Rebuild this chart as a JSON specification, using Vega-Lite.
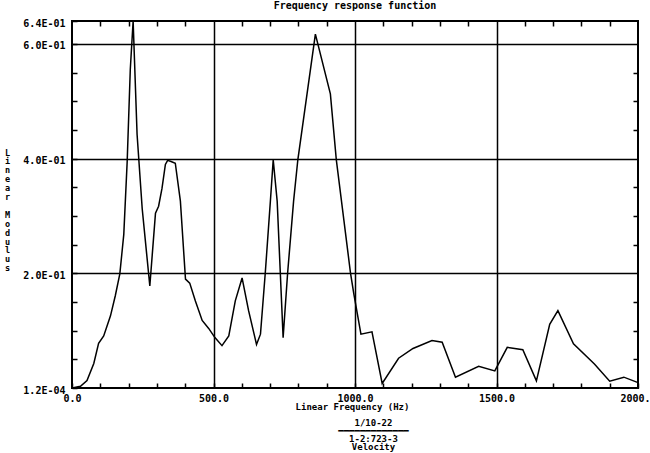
{
  "$schema": "https://vega.github.io/schema/vega-lite/v6.json",
  "width": 566,
  "height": 367,
  "autosize": {"type": "none"},
  "padding": {"left": 72, "top": 21, "right": 12, "bottom": 65},
  "background": "white",
  "title": {
    "text": "Frequency response function",
    "font": "DejaVu Sans Mono",
    "fontSize": 10,
    "fontWeight": "bold",
    "color": "black",
    "offset": 7,
    "anchor": "middle"
  },
  "config": {
    "view": {"stroke": "black", "strokeWidth": 2},
    "axis": {
      "labelFont": "DejaVu Sans Mono",
      "labelFontWeight": "bold",
      "labelFontSize": 10,
      "labelColor": "black",
      "titleFont": "DejaVu Sans Mono",
      "titleFontWeight": "bold",
      "titleFontSize": 9,
      "titleColor": "black",
      "domain": false,
      "tickColor": "black",
      "tickWidth": 1.5,
      "gridColor": "black",
      "gridWidth": 1.5,
      "labelFlush": false,
      "labelOverlap": false
    }
  },
  "data": {
    "values": [
      {"f": 0, "m": 0.0002},
      {"f": 30, "m": 0.003},
      {"f": 53, "m": 0.013},
      {"f": 77, "m": 0.043},
      {"f": 94, "m": 0.078},
      {"f": 112, "m": 0.091},
      {"f": 136, "m": 0.126},
      {"f": 153, "m": 0.161},
      {"f": 169, "m": 0.199},
      {"f": 183, "m": 0.268},
      {"f": 195, "m": 0.395},
      {"f": 206, "m": 0.556},
      {"f": 216, "m": 0.64},
      {"f": 230, "m": 0.442},
      {"f": 248, "m": 0.313},
      {"f": 275, "m": 0.178},
      {"f": 295, "m": 0.305},
      {"f": 306, "m": 0.317},
      {"f": 318, "m": 0.348},
      {"f": 330, "m": 0.39},
      {"f": 338, "m": 0.397},
      {"f": 350, "m": 0.395},
      {"f": 365, "m": 0.392},
      {"f": 383, "m": 0.326},
      {"f": 401, "m": 0.19},
      {"f": 416, "m": 0.183},
      {"f": 436, "m": 0.152},
      {"f": 460, "m": 0.118},
      {"f": 483, "m": 0.104},
      {"f": 505, "m": 0.088},
      {"f": 530, "m": 0.074},
      {"f": 554, "m": 0.091},
      {"f": 577, "m": 0.152},
      {"f": 601, "m": 0.192},
      {"f": 624, "m": 0.135},
      {"f": 652, "m": 0.076},
      {"f": 666, "m": 0.094},
      {"f": 683, "m": 0.201},
      {"f": 701, "m": 0.326},
      {"f": 711, "m": 0.398},
      {"f": 725, "m": 0.326},
      {"f": 746, "m": 0.088},
      {"f": 762, "m": 0.201},
      {"f": 783, "m": 0.326},
      {"f": 798, "m": 0.398},
      {"f": 860, "m": 0.617},
      {"f": 913, "m": 0.513},
      {"f": 934, "m": 0.398},
      {"f": 984, "m": 0.201},
      {"f": 996, "m": 0.164},
      {"f": 1021, "m": 0.094},
      {"f": 1060, "m": 0.098},
      {"f": 1096, "m": 0.008},
      {"f": 1154, "m": 0.052},
      {"f": 1205, "m": 0.069},
      {"f": 1272, "m": 0.083},
      {"f": 1308, "m": 0.08},
      {"f": 1355, "m": 0.019},
      {"f": 1437, "m": 0.038},
      {"f": 1494, "m": 0.03},
      {"f": 1538, "m": 0.071},
      {"f": 1593, "m": 0.067},
      {"f": 1641, "m": 0.0125},
      {"f": 1688, "m": 0.111},
      {"f": 1717, "m": 0.135},
      {"f": 1772, "m": 0.077},
      {"f": 1846, "m": 0.042},
      {"f": 1900, "m": 0.012},
      {"f": 1950, "m": 0.019},
      {"f": 1998, "m": 0.01}
    ]
  },
  "resolve": {"axis": {"x": "independent", "y": "independent"}},
  "layer": [
    {
      "mark": {"type": "line", "color": "black", "strokeWidth": 1.5, "clip": true},
      "encoding": {
        "x": {
          "field": "f",
          "type": "quantitative",
          "scale": {"domain": [0, 2000], "nice": false, "zero": false},
          "axis": {
            "orient": "bottom",
            "values": [0, 100, 200, 300, 400, 500, 600, 700, 800, 900, 1000, 1100, 1200, 1300, 1400, 1500, 1600, 1700, 1800, 1900, 2000],
            "labelExpr": "datum.value % 500 === 0 ? format(datum.value, '.1f') : ''",
            "tickSize": -5,
            "labelPadding": 10,
            "grid": true,
            "gridOpacity": {"condition": {"test": "datum.value === 500 || datum.value === 1000 || datum.value === 1500", "value": 1}, "value": 0},
            "title": ["Linear Frequency (Hz)", "\u2800", "\u2800\u2800\u2800\u2800\u2800\u28001/10-22", "\u2800\u2800\u2800\u2800\u2800\u2800━━━━━━━━━━━━━", "\u2800\u2800\u2800\u2800\u2800\u28001-2:723-3", "\u2800\u2800\u2800\u2800\u2800\u2800Velocity"],
            "titleLineHeight": 8,
            "titlePadding": -1,
            "titleX": 280
          }
        },
        "y": {
          "field": "m",
          "type": "quantitative",
          "scale": {"domain": [0.00012, 0.64], "nice": false, "zero": false},
          "axis": {
            "orient": "left",
            "values": [0.00012, 0.05, 0.1, 0.15, 0.2, 0.25, 0.3, 0.35, 0.4, 0.45, 0.5, 0.55, 0.6, 0.64],
            "labelExpr": "datum.value === 0.00012 ? '1.2E-04' : datum.value === 0.2 ? '2.0E-01' : datum.value === 0.4 ? '4.0E-01' : datum.value === 0.6 ? '6.0E-01' : datum.value === 0.64 ? '6.4E-01' : ''",
            "tickSize": -5,
            "labelPadding": 12,
            "labelOffset": 2,
            "grid": true,
            "gridOpacity": {"condition": {"test": "datum.value === 0.2 || datum.value === 0.4 || datum.value === 0.6", "value": 1}, "value": 0},
            "title": ["L", "i", "n", "e", "a", "r", "\u2800", "M", "o", "d", "u", "l", "u", "s"],
            "titleAngle": 0,
            "titleFontSize": 8.5,
            "titleLineHeight": 8.9,
            "titleAlign": "center",
            "titleBaseline": "middle",
            "titleX": -65,
            "titleY": 131
          }
        }
      }
    },
    {
      "mark": {"type": "line", "opacity": 0},
      "encoding": {
        "x": {
          "field": "f",
          "type": "quantitative",
          "axis": {
            "orient": "top",
            "values": [100, 200, 300, 400, 600, 700, 800, 900, 1100, 1200, 1300, 1400, 1600, 1700, 1800, 1900],
            "labels": false,
            "tickSize": -5,
            "grid": false,
            "title": null
          }
        },
        "y": {
          "field": "m",
          "type": "quantitative",
          "axis": {
            "orient": "right",
            "values": [0.05, 0.1, 0.15, 0.25, 0.3, 0.35, 0.45, 0.5, 0.55],
            "labels": false,
            "tickSize": -5,
            "grid": false,
            "title": null
          }
        }
      }
    }
  ]
}
